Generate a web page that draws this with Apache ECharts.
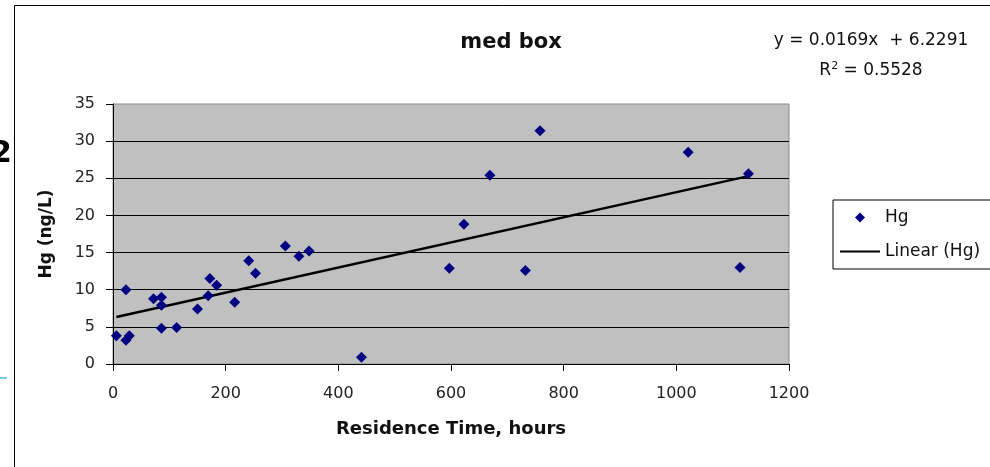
<!DOCTYPE html>
<html>
<head>
<meta charset="utf-8">
<script src="https://cdn.jsdelivr.net/npm/echarts@6/dist/echarts.min.js"></script>
<style>
html,body{margin:0;padding:0;background:#fff;}
#chart{width:990px;height:467px;}
</style>
</head>
<body>
<div id="chart"></div>
<script>
// Residence time (hours) and Hg (ng/L)
var residenceTime = [6, 23, 23, 29, 72, 86, 86, 86, 113, 150, 169, 172, 184, 216, 241, 253, 306, 330, 348, 441, 597, 623, 669, 732, 758, 1021, 1113, 1128];
var hgValues      = [3.8, 10.0, 3.2, 3.8, 8.8, 9.0, 7.9, 4.8, 4.9, 7.4, 9.2, 11.5, 10.6, 8.3, 13.9, 12.2, 15.9, 14.5, 15.2, 0.9, 12.9, 18.8, 25.4, 12.6, 31.4, 28.5, 13.0, 25.6];
var xTicks = [0, 200, 400, 600, 800, 1000, 1200];
var yTicks = [0, 5, 10, 15, 20, 25, 30, 35];
var trendSlope = 0.0169;
var trendIntercept = 6.2291;
var trendR2 = 0.5528;

var points = residenceTime.map(function (x, i) { return [x, hgValues[i]]; });
var xMin = Math.min.apply(null, residenceTime);
var xMax = Math.max.apply(null, residenceTime);
var trendLine = [[xMin, trendSlope * xMin + trendIntercept], [xMax, trendSlope * xMax + trendIntercept]];

var FONT = 'DejaVu Sans';
var chart = echarts.init(document.getElementById('chart'), null, {renderer: 'canvas'});
chart.setOption({
  animation: false,
  backgroundColor: '#fff',
  title: {
    text: 'med box',
    left: 506,
    textAlign: 'center',
    top: 27,
    textStyle: {fontFamily: FONT, fontWeight: 'bold', fontSize: 21, color: '#111'}
  },
  grid: {
    left: 113, right: 201, top: 104, bottom: 103,
    show: true, backgroundColor: '#c0c0c0', borderColor: '#8a8a8a', borderWidth: 1
  },
  legend: {
    orient: 'vertical',
    left: 833, top: 200,
    padding: [9, 40, 9, 7],
    itemWidth: 40, itemHeight: 10, itemGap: 17,
    symbolKeepAspect: true,
    borderColor: '#000', borderWidth: 1,
    backgroundColor: '#fff',
    textStyle: {fontFamily: FONT, fontSize: 17, color: '#111'},
    data: [
      {name: 'Hg', icon: 'path://M5 0 L10 5 L5 10 L0 5 Z'},
      {name: 'Linear (Hg)', icon: 'path://M0 0 H40 V2 H0 Z'}
    ]
  },
  xAxis: {
    type: 'value',
    min: xTicks[0], max: xTicks[xTicks.length - 1], interval: xTicks[1] - xTicks[0],
    name: 'Residence Time, hours',
    nameLocation: 'middle', nameGap: 56,
    nameTextStyle: {fontFamily: FONT, fontWeight: 'bold', fontSize: 18, color: '#111'},
    axisLine: {show: true, lineStyle: {color: '#000', width: 1}},
    axisTick: {show: true, length: 7, lineStyle: {color: '#000'}},
    axisLabel: {fontFamily: FONT, fontSize: 16, color: '#222', margin: 22, formatter: function (v) { return String(v); }},
    splitLine: {show: false}
  },
  yAxis: {
    type: 'value',
    min: yTicks[0], max: yTicks[yTicks.length - 1], interval: yTicks[1] - yTicks[0],
    name: 'Hg (ng/L)',
    nameLocation: 'middle', nameGap: 58, nameRotate: 90,
    nameTextStyle: {fontFamily: FONT, fontWeight: 'bold', fontSize: 17, color: '#111'},
    axisLine: {show: true, lineStyle: {color: '#000', width: 1}},
    axisTick: {show: true, length: 7, lineStyle: {color: '#000'}},
    axisLabel: {fontFamily: FONT, fontSize: 16, color: '#222', margin: 18, formatter: function (v) { return String(v); }},
    splitLine: {show: true, showMaxLine: false, lineStyle: {color: '#000', width: 1}}
  },
  series: [
    {
      name: 'Hg',
      type: 'scatter',
      symbol: 'diamond',
      symbolSize: 11,
      itemStyle: {color: '#000080', opacity: 1},
      data: points,
      z: 3
    },
    {
      name: 'Linear (Hg)',
      type: 'line',
      symbol: 'none',
      showSymbol: false,
      lineStyle: {color: '#000', width: 2.5},
      itemStyle: {color: '#000'},
      data: trendLine,
      z: 2
    }
  ],
  graphic: [
    {
      type: 'rect', silent: true,
      shape: {x: 14.5, y: 5.5, width: 1000, height: 500},
      style: {fill: 'none', stroke: '#000', lineWidth: 1}
    },
    {
      type: 'text', x: 871, y: 32, silent: true,
      style: {
        text: 'y = ' + trendSlope + 'x  + ' + trendIntercept,
        fontFamily: FONT, fontSize: 17, fill: '#111', align: 'center', textAlign: 'center'
      }
    },
    {
      type: 'text', x: 871, y: 61, silent: true,
      style: {
        text: 'R{sup|2} = ' + trendR2,
        rich: {sup: {fontSize: 11, verticalAlign: 'top', padding: [0, 0, 8, 0], fontFamily: FONT, fill: '#111'}},
        fontFamily: FONT, fontSize: 17, fill: '#111', align: 'center', textAlign: 'center'
      }
    },
    {
      type: 'line', silent: true,
      shape: {x1: 0, y1: 378, x2: 7, y2: 378},
      style: {stroke: '#7cc8e8', lineWidth: 2}
    },
    {
      type: 'text', left: -9, top: 139,
      style: {text: '2', fontFamily: FONT, fontWeight: 'bold', fontSize: 30, fill: '#000'}
    }
  ]
});
</script>
</body>
</html>
